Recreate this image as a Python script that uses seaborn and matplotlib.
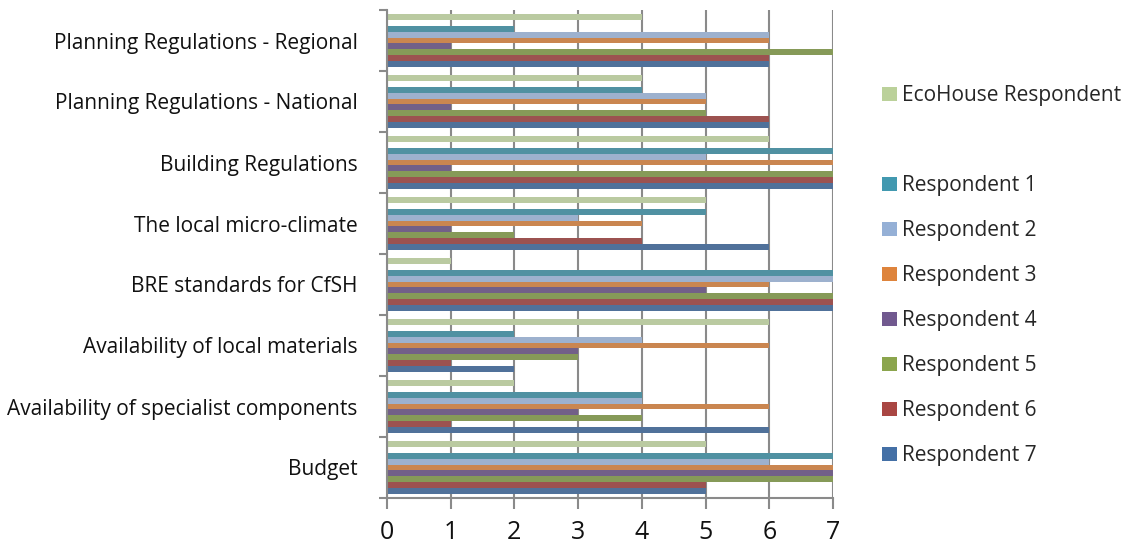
import matplotlib
matplotlib.use("Agg")
import matplotlib.pyplot as plt
from matplotlib.patches import Patch
from matplotlib.ticker import FixedLocator
import numpy as np
import pandas as pd
import seaborn as sns

categories = [
    "Planning Regulations - Regional",
    "Planning Regulations - National",
    "Building Regulations",
    "The local micro-climate",
    "BRE standards for CfSH",
    "Availability of local materials",
    "Availability of specialist components",
    "Budget",
]

ecohouse = [4, 4, 6, 5, 1, 6, 2, 5]
respondent_1 = [2, 4, 7, 5, 7, 2, 4, 7]
respondent_2 = [6, 5, 5, 3, 7, 4, 4, 6]
respondent_3 = [6, 5, 7, 4, 6, 6, 6, 7]
respondent_4 = [1, 1, 1, 1, 5, 3, 3, 7]
respondent_5 = [7, 5, 7, 2, 7, 3, 4, 7]
respondent_6 = [6, 6, 7, 4, 7, 1, 1, 5]
respondent_7 = [6, 6, 7, 6, 7, 2, 6, 5]
# an unnamed, empty series sits between the EcoHouse bar and Respondent 1
spacer = [0] * len(categories)

series_names = ["EcoHouse Respondent", " ", "Respondent 1", "Respondent 2",
                "Respondent 3", "Respondent 4", "Respondent 5",
                "Respondent 6", "Respondent 7"]
series_values = [ecohouse, spacer, respondent_1, respondent_2, respondent_3,
                 respondent_4, respondent_5, respondent_6, respondent_7]
colors = ["#BBD19A", "#FFFFFF", "#4299B0", "#95B0D6", "#DE843C",
          "#71598F", "#8BA54D", "#A94643", "#4470A6"]
x_ticks = [0, 1, 2, 3, 4, 5, 6, 7]

rows = []
for name, vals in zip(series_names, series_values):
    for cat, v in zip(categories, vals):
        rows.append({"category": cat, "series": name, "score": v})
df = pd.DataFrame(rows)

sns.set_theme(style="white")
plt.rcParams["font.family"] = ["Open Sans", "DejaVu Sans"]

fig = plt.figure(figsize=(11.26, 5.47), dpi=100)
ax = fig.add_axes([387 / 1126, 1 - 498 / 547, 446 / 1126, 488 / 547])

sns.barplot(data=df, y="category", x="score", hue="series",
            order=categories, hue_order=series_names, palette=colors,
            orient="h", width=0.885, dodge=True, linewidth=0, ax=ax,
            legend=False, errorbar=None)

ax.set_xlim(0, 7)
ax.set_ylim(len(categories) - 0.5, -0.5)
ax.set_xticks(x_ticks)
ax.set_xticklabels([str(t) for t in x_ticks], fontsize=18, color="#111111")
ax.set_xlabel("")
ax.set_ylabel("")

# vertical gridlines behind the bars
ax.set_axisbelow(True)
ax.grid(axis="x", color="#8A8A8A", linewidth=1.5)
ax.grid(axis="y", visible=False)

for side in ["top", "right"]:
    ax.spines[side].set_visible(False)
for side in ["left", "bottom"]:
    ax.spines[side].set_color("#8A8A8A")
    ax.spines[side].set_linewidth(1.5)

ax.tick_params(axis="x", length=8, width=1.5, color="#8A8A8A", pad=8,
               direction="out", bottom=True)
ax.tick_params(axis="y", which="major", length=0, pad=21, labelsize=15,
               labelcolor="#111111")
ax.yaxis.set_minor_locator(FixedLocator(np.arange(-0.5, len(categories), 1.0)))
ax.tick_params(axis="y", which="minor", length=6, width=1.5,
               color="#8A8A8A", direction="out", left=True)

handles = [Patch(facecolor=c, edgecolor="none") for c in colors]
handles[1] = Patch(facecolor="none", edgecolor="none")
fig.legend(handles, series_names, loc="upper left",
           bbox_to_anchor=(874 / 1126, 1 - 77 / 547), frameon=False,
           fontsize=15, labelspacing=1.15, handlelength=0.68,
           handleheight=0.68, handletextpad=0.25, borderaxespad=0)

fig.savefig("out.png", dpi=100, facecolor="white")
